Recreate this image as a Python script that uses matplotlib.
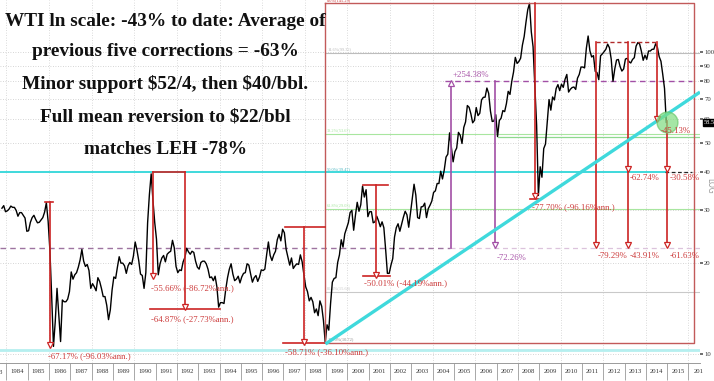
import numpy as np
import matplotlib
matplotlib.use('Agg')
import matplotlib.pyplot as plt
from matplotlib.transforms import blended_transform_factory
from matplotlib.ticker import NullLocator

# ---------------- data: WTI monthly ----------------
p1983 = [30.4, 31.0, 29.6]  # Oct-Dec
p1984 = [29.8, 30.2, 30.9, 30.6, 30.6, 29.9, 28.6, 29.4, 29.4, 28.8, 28.2, 25.5]
p1985 = [25.6, 27.3, 28.3, 28.8, 27.9, 27.2, 27.3, 27.8, 28.3, 29.5, 31.7, 27.5]
p1986 = [22.0, 15.5, 10.6, 12.8, 16.5, 13.5, 11.0, 15.1, 14.9, 14.9, 15.2, 16.1]
p1987 = [18.7, 17.7, 18.3, 18.6, 19.4, 20.5, 22.2, 20.3, 19.5, 19.8, 18.9, 16.5]
p1988 = [17.1, 16.7, 16.2, 17.9, 17.4, 16.5, 15.5, 15.5, 14.5, 13.0, 14.0, 16.3]
p1989 = [18.0, 17.8, 19.4, 21.0, 20.0, 20.0, 19.6, 18.5, 19.6, 20.1, 19.8, 21.1]
p1990 = [23.5, 22.1, 20.4, 18.4, 18.2, 16.5, 18.6, 27.2, 33.7, 39.5, 32.3, 27.3]
p1991 = [24.0, 18.3, 19.9, 20.8, 21.2, 20.2, 21.4, 21.7, 21.9, 23.8, 22.5, 19.5]
p1992 = [18.6, 19.0, 18.9, 20.2, 20.9, 22.4, 21.8, 21.4, 21.9, 21.7, 20.3, 19.4]
p1993 = [19.1, 20.1, 20.3, 20.3, 19.9, 19.1, 17.9, 18.0, 17.5, 18.1, 16.7, 14.3]
p1994 = [14.8, 14.8, 14.7, 16.4, 17.9, 19.1, 19.9, 18.4, 17.5, 17.7, 18.1, 17.2]
p1995 = [18.0, 18.5, 18.6, 19.9, 19.7, 18.4, 17.3, 17.9, 18.2, 17.4, 18.0, 19.0]
p1996 = [18.9, 19.1, 21.3, 23.5, 21.2, 20.4, 21.3, 21.9, 23.9, 24.9, 23.7, 25.9]
p1997 = [25.2, 22.2, 20.9, 19.7, 20.8, 19.2, 19.6, 19.9, 19.8, 21.3, 20.2, 18.3]
p1998 = [16.7, 16.1, 15.0, 15.4, 14.9, 13.7, 14.1, 13.4, 15.0, 14.4, 12.9, 10.9]
p1999 = [12.5, 12.0, 14.7, 17.3, 17.8, 17.9, 20.1, 21.3, 23.9, 22.6, 25.0, 26.1]
p2000 = [27.2, 29.4, 29.9, 25.7, 28.8, 31.8, 29.7, 31.2, 36.0, 33.1, 35.0, 28.5]
p2001 = [29.6, 29.6, 27.2, 27.4, 28.6, 27.6, 26.4, 27.4, 26.2, 22.2, 18.5, 18.5]
p2002 = [19.7, 20.7, 24.4, 26.2, 27.0, 25.5, 26.9, 28.4, 29.7, 28.9, 26.3, 29.4]
p2003 = [32.9, 36.5, 33.6, 28.3, 28.1, 30.7, 30.8, 31.6, 28.3, 30.3, 31.1, 32.1]
p2004 = [34.3, 34.7, 36.7, 36.7, 40.3, 38.0, 40.7, 44.9, 45.9, 54.0, 48.5, 43.3]
p2005 = [46.8, 48.1, 54.2, 53.0, 49.8, 56.3, 58.7, 66.5, 65.6, 62.4, 58.3, 59.4]
p2006 = [65.5, 61.6, 62.7, 69.4, 70.8, 70.9, 76.0, 73.0, 63.8, 58.9, 59.1, 62.0]
p2007 = [52.5, 59.3, 60.4, 64.0, 63.5, 67.5, 74.1, 72.4, 79.9, 85.8, 96.0, 91.7]
p2008 = [93.0, 95.4, 105.4, 112.6, 125.4, 138.0, 145.0, 116.7, 104.1, 76.6, 57.3, 33.5]
p2009 = [41.7, 38.5, 47.9, 49.6, 59.0, 69.6, 64.2, 71.0, 69.4, 75.7, 78.0, 74.5]
p2010 = [78.3, 76.4, 81.2, 84.3, 73.7, 75.3, 76.3, 76.6, 75.2, 81.9, 84.3, 89.2]
p2011 = [89.2, 88.6, 102.9, 113.0, 100.9, 96.3, 97.3, 86.3, 85.5, 81.0, 97.2, 98.6]
p2012 = [100.3, 102.2, 106.2, 103.3, 94.7, 80.0, 87.9, 94.1, 94.5, 89.5, 86.5, 87.9]
p2013 = [94.8, 95.3, 92.9, 92.0, 94.5, 95.8, 104.6, 107.5, 106.3, 100.5, 93.9, 97.6]
p2014 = [94.6, 100.8, 100.8, 102.1, 102.2, 106.5, 103.6, 96.5, 93.2, 84.4, 75.8, 58.5]

year_labels = [str(y) for y in range(1984, 2016)] + ['201']
price_ticks = [10, 20, 30, 40, 50, 60, 70, 80, 90, 100]
price_tick_labels = ['10', '20', '30', '40', '50', '60', '70', '80', '90', '100']

fib_levels = [99.5, 53.6, 40.0, 30.2, 16.1]
fib_labels = ['14.6%(99.32)', '38.2%(53.67)', '50.0%(39.47)', '61.8%(29.03)', '85.4%(15.68)']

title_lines = ["WTI ln scale: -43% to date: Average of",
               "previous five corrections = -63%",
               "Minor support $52/4, then $40/bbl.",
               "Full mean reversion to $22/bbl",
               "matches LEH -78%"]

prices = np.array(p1983 + p1984 + p1985 + p1986 + p1987 + p1988 + p1989 + p1990 +
                  p1991 + p1992 + p1993 + p1994 + p1995 + p1996 + p1997 + p1998 +
                  p1999 + p2000 + p2001 + p2002 + p2003 + p2004 + p2005 + p2006 +
                  p2007 + p2008 + p2009 + p2010 + p2011 + p2012 + p2013 + p2014)
t = 1983 + (9 + np.arange(len(prices)) + 0.5) / 12.0

# ---------------- figure ----------------
W, H = 714, 381
fig = plt.figure(figsize=(W / 100, H / 100), dpi=100)
fig.patch.set_facecolor('white')
ax = fig.add_axes([0, 18 / H, 700 / W, 363 / H])
ax.set_yscale('log')
ax.set_xlim(1983.70, 2016.54)
ax.set_ylim(9.34, 148.7)

SERIF = 'Liberation Serif'
RED = '#cc2424'
RED_T = '#cc3a3a'
BOX = '#c25a5a'
PURP = '#a24fa6'
CYAN = '#3fd9dc'

# axes / ticks
for s in ['top', 'left', 'right']:
    ax.spines[s].set_visible(False)
ax.spines['bottom'].set_color('#9a9a9a')
ax.spines['bottom'].set_linewidth(0.7)

years = np.arange(1984, 2017)
ax.set_xticks(years)
ax.set_xticklabels([])
ax.tick_params(axis='x', which='major', length=12, width=0.6, color='#9a9a9a', direction='out')
ax.set_xticks(np.arange(1984, 2017) + 0.5, minor=True)
ax.set_xticklabels(year_labels, minor=True, fontsize=4.8, family=SERIF, color='#333333')
ax.tick_params(axis='x', which='minor', length=0, pad=4.5)

ax.yaxis.tick_right()
ax.set_yticks(price_ticks)
ax.set_yticklabels(price_tick_labels, fontsize=4.8, family=SERIF, color='#333333')
ax.yaxis.set_minor_locator(NullLocator())
ax.tick_params(axis='y', length=2, width=1.2, color='#555555', pad=1)

# grid
for pt in price_ticks:
    ax.axhline(pt, color='#c8c8c8', lw=0.6, ls=(0, (1, 2)), zorder=0)
for yy in range(1984, 2017, 2):
    ax.axvline(yy, color='#cfcfcf', lw=0.6, ls=(0, (1, 2)), zorder=0)

# horizontal reference lines
x0, x1 = ax.get_xlim()
ax.plot([x0, x1], [10.3, 10.3], color='#b5efef', lw=2.0, zorder=1)
ax.plot([x0, 2014.90], [40, 40], color=CYAN, lw=1.4, zorder=1)
ax.plot([2014.90, 2016.16], [40, 40], color='#222222', lw=0.9, ls=(0, (3, 2)), zorder=1)
ax.plot([x0, 2004.81], [22.4, 22.4], color='#9e74a0', lw=1.0, ls=(0, (4, 3)), zorder=1)
ax.plot([2004.81, x1], [22.4, 22.4], color='#dcc3dc', lw=0.9, ls=(0, (4, 3)), zorder=1)
ax.plot([2004.58, 2016.16], [80, 80], color=PURP, lw=1.0, ls=(0, (4, 3)), zorder=1)
ax.plot([2007.06, x1], [52.3, 52.3], color='#8fd88f', lw=0.9, zorder=1)

fib_colors = ['#bdbdbd', '#a8e6a0', CYAN, '#a8e6a0', '#c9c9c9']
for lev, lab, c in zip(fib_levels, fib_labels, fib_colors):
    if lev != 40.0:
        ax.plot([1998.95, x1], [lev, lev], color=c, lw=0.8, zorder=1)
    ax.text(1999.05, lev * 1.012, lab, fontsize=3.2, color=c if c != CYAN else '#49b5c0',
            family=SERIF, va='bottom', ha='left', zorder=3)
ax.text(1999.05, 146.5, '0.0%(145.29)', fontsize=3.2, color=RED_T, family=SERIF, va='bottom')
ax.text(1999.05, 11.0, '100.0%(10.72)', fontsize=3.2, color='#888888', family=SERIF, va='bottom')

# price series
ax.plot(t, prices, color='black', lw=1.0, zorder=4)

# measuring box 1998 low -> 2008 high
ax.plot([1998.95, 2016.25, 2016.25, 1998.95, 1998.95],
        [145.6, 145.6, 10.85, 10.85, 145.6], color=BOX, lw=1.0, zorder=5)


def vline(x, ytop, ybot, color=RED, heads=None, up=False):
    ax.plot([x, x], [ytop, ybot], color=color, lw=1.2, zorder=6)
    if heads is None:
        heads = [ybot]
    ax.plot([x] * len(heads), heads, ls='none', marker='^' if up else 'v', ms=4.2,
            mfc='white', mec=color, mew=0.9, zorder=7)


def hline(xa, xb, y, color=RED, lw=1.2, ls='-'):
    ax.plot([xa, xb], [y, y], color=color, lw=lw, ls=ls, zorder=6)


def label(x, y, s, color=RED_T, size=6.3):
    ax.text(x, y, s, color=color, fontsize=size, family=SERIF, ha='left', va='center', zorder=8)


# 1985-86
hline(1985.81, 1986.19, 31.8)
vline(1986.05, 31.8, 10.7)
label(1985.93, 9.85, '-67.17% (-96.03%ann.)')
# 1990-91
hline(1990.88, 1992.38, 40.0)
vline(1990.88, 40.0, 18.1)
label(1990.80, 16.5, '-55.66% (-86.72%ann.)')
vline(1992.38, 40.0, 14.3)
hline(1990.74, 1994.02, 14.05)
label(1990.80, 13.0, '-64.87% (-27.73%ann.)')
# 1997-98
hline(1997.07, 1998.95, 26.3)
vline(1997.96, 26.3, 11.0)
hline(1997.0, 1998.95, 10.85)
label(1997.05, 10.15, '-58.71% (-36.10%ann.)')
# 2000-01
hline(2000.73, 2001.90, 36.3)
vline(2001.34, 36.3, 18.3)
hline(2000.73, 2002.0, 18.1)
label(2000.80, 17.1, '-50.01% (-44.19%ann.)')
# 2004-06 purple
vline(2004.86, 22.4, 79.0, color=PURP, up=True)
label(2004.95, 84.0, '+254.38%', color='#a855a8')
vline(2006.92, 80.0, 23.0, color=PURP)
label(2007.0, 20.8, '-72.26%', color='#a855a8')
# 2008
vline(2008.80, 145.6, 33.4)
hline(2008.56, 2009.03, 32.6)
label(2008.68, 30.7, '-77.70% (-96.16%ann.)')
# 2011-2014
hline(2011.66, 2014.57, 107.8, color='#b02a2a', lw=1.0, ls=(0, (3, 2)))
vline(2011.66, 107.8, 23.0)
label(2011.74, 21.1, '-79.29%')
vline(2013.16, 107.8, 23.0, heads=[41.0, 23.0])
label(2013.24, 38.2, '-62.74%')
label(2013.24, 21.1, '-43.91%')
vline(2014.52, 107.8, 60.0)
vline(2014.99, 59.0, 23.0, heads=[41.0, 23.0])
label(2015.10, 38.2, '-30.58%')
label(2015.10, 21.1, '-61.63%')

# trend line from 1998 low
ax.plot([1998.97, x1], [10.8, 73.7], color=CYAN, lw=2.4, zorder=6, solid_capstyle='butt')

# highlight circle
ax.plot([2014.99], [58.6], 'o', ms=15, mfc='#7fdc7f', mec='#6cc86c', alpha=0.7, zorder=7)
label(2014.70, 54.7, '-45.13%')

# right axis extras
tr = blended_transform_factory(ax.transAxes, ax.transData)
ax.text(1.005, 58.6, '58.53', transform=tr, fontsize=4.6, color='white', family=SERIF,
        va='center', ha='left', bbox=dict(boxstyle='square,pad=0.15', fc='black', ec='black'),
        zorder=9, clip_on=False)
ax.text(1.007, 36, 'LOG', transform=tr, fontsize=5.5, color='#9a9a9a', rotation=270,
        va='center', ha='left', clip_on=False)

fig.text(-4 / W, 1 - 372 / H, '1983', fontsize=4.8, family=SERIF, color='#333333',
         ha='center', va='center')

# headline text
ys = [22, 52, 84, 117, 149]
for s, yy in zip(title_lines, ys):
    fig.text(165 / W, 1 - yy / H, s, fontsize=13.9, family=SERIF, weight='bold',
             ha='center', va='center', color='#111111', parse_math=False, zorder=10)

fig.savefig('out.png', dpi=100)
